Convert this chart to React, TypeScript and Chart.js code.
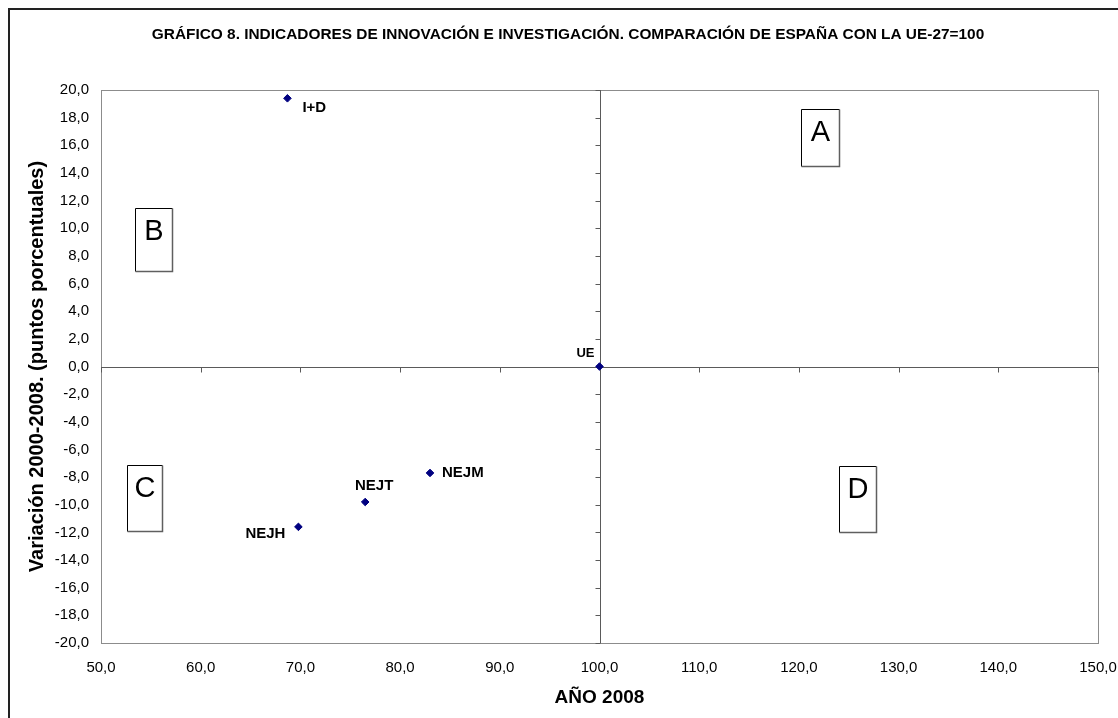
import React, { useEffect, useRef } from 'react';
import { Chart, registerables } from 'chart.js';

Chart.register(...registerables);

const FONT = "'Liberation Sans', Arial, Helvetica, sans-serif";

// ---- data ----
const chartTitle =
  'GRÁFICO 8. INDICADORES DE INNOVACIÓN E INVESTIGACIÓN. COMPARACIÓN DE ESPAÑA CON LA UE-27=100';
const xAxisTitle = 'AÑO 2008';
const yAxisTitle = 'Variación 2000-2008. (puntos porcentuales)';
const categories = ['I+D', 'NEJH', 'NEJT', 'NEJM', 'UE'];
const xValues = [68.7, 69.8, 76.5, 83.0, 100.0];
const yValues = [19.4, -11.6, -9.8, -7.7, 0.0];
const quadrantLetters = ['A', 'B', 'C', 'D'];
const xMin = 50;
const xMax = 150;
const xStep = 10;
const yMin = -20;
const yMax = 20;
const yStep = 2;
const xCross = 100;
const yCross = 0;

// ---- styles (label offsets, quadrant boxes in data units) ----
const labelStyles = [
  { dx: 15, dy: 10, align: 'left', size: 15 },
  { dx: -13, dy: 7, align: 'right', size: 15 },
  { dx: 9, dy: -16, align: 'center', size: 15 },
  { dx: 12, dy: 0, align: 'left', size: 15 },
  { dx: -5, dy: -13, align: 'right', size: 13 },
];
const boxStyles = [
  { x0: 120.2, x1: 124.0, y0: 18.6, y1: 14.5 },
  { x0: 53.4, x1: 57.1, y0: 11.5, y1: 6.9 },
  { x0: 52.6, x1: 56.1, y0: -7.1, y1: -11.9 },
  { x0: 124.0, x1: 127.7, y0: -7.2, y1: -12.0 },
];

const fmt = (v: number) => v.toFixed(1).replace('.', ',');

export default function App() {
  const ref = useRef<HTMLCanvasElement>(null);

  useEffect(() => {
    const canvas = ref.current;
    if (!canvas) return;

    const decor = {
      id: 'decor',
      beforeDraw(chart: any) {
        const ctx = chart.ctx as CanvasRenderingContext2D;
        ctx.save();
        ctx.fillStyle = '#ffffff';
        ctx.fillRect(0, 0, chart.width, chart.height);
        // outer frame
        ctx.strokeStyle = '#222222';
        ctx.lineWidth = 2;
        ctx.strokeRect(9, 9, chart.width + 40, chart.height + 40);
        // title fitted to width
        let size = 12;
        ctx.font = `bold ${size}px ${FONT}`;
        const w = ctx.measureText(chartTitle).width;
        size = (size * 833) / w;
        ctx.font = `bold ${size.toFixed(2)}px ${FONT}`;
        ctx.fillStyle = '#000000';
        ctx.textAlign = 'center';
        ctx.textBaseline = 'middle';
        ctx.fillText(chartTitle, 568, 35);
        ctx.restore();
      },
      beforeDatasetsDraw(chart: any) {
        const ctx = chart.ctx as CanvasRenderingContext2D;
        const { left, right, top, bottom } = chart.chartArea;
        const xs = chart.scales.x;
        const ys = chart.scales.y;
        ctx.save();
        // plot border
        ctx.strokeStyle = '#8c8c8c';
        ctx.lineWidth = 1;
        ctx.strokeRect(Math.round(left) + 0.5, Math.round(top) + 0.5, Math.round(right - left), Math.round(bottom - top));
        // cross lines
        const cx = Math.round(xs.getPixelForValue(xCross)) + 0.5;
        const cy = Math.round(ys.getPixelForValue(yCross)) + 0.5;
        ctx.strokeStyle = '#5a5a5a';
        ctx.beginPath();
        ctx.moveTo(cx, top);
        ctx.lineTo(cx, bottom);
        ctx.moveTo(left, cy);
        ctx.lineTo(right, cy);
        // tick marks on the cross lines
        for (let v = yMin; v <= yMax + 1e-9; v += yStep) {
          const py = Math.round(ys.getPixelForValue(v)) + 0.5;
          ctx.moveTo(cx - 5, py);
          ctx.lineTo(cx, py);
        }
        for (let v = xMin; v <= xMax + 1e-9; v += xStep) {
          const px = Math.round(xs.getPixelForValue(v)) + 0.5;
          ctx.moveTo(px, cy);
          ctx.lineTo(px, cy + 5);
        }
        ctx.stroke();
        // quadrant boxes
        quadrantLetters.forEach((letter, i) => {
          const b = boxStyles[i];
          const x0 = Math.round(xs.getPixelForValue(b.x0)) + 0.5;
          const x1 = Math.round(xs.getPixelForValue(b.x1)) + 0.5;
          const y0 = Math.round(ys.getPixelForValue(b.y0)) + 0.5;
          const y1 = Math.round(ys.getPixelForValue(b.y1)) + 0.5;
          ctx.fillStyle = '#ffffff';
          ctx.fillRect(x0, y0, x1 - x0, y1 - y0);
          ctx.lineWidth = 1;
          ctx.strokeStyle = '#000000';
          ctx.beginPath();
          ctx.moveTo(x0, y1);
          ctx.lineTo(x0, y0);
          ctx.lineTo(x1, y0);
          ctx.stroke();
          ctx.strokeStyle = '#5f5f5f';
          ctx.lineWidth = 1.5;
          ctx.beginPath();
          ctx.moveTo(x1, y0);
          ctx.lineTo(x1, y1);
          ctx.lineTo(x0, y1);
          ctx.stroke();
          ctx.fillStyle = '#000000';
          ctx.font = `29px ${FONT}`;
          ctx.textAlign = 'center';
          ctx.textBaseline = 'middle';
          ctx.fillText(letter, (x0 + x1) / 2, y0 + 23);
        });
        ctx.restore();
      },
      afterDatasetsDraw(chart: any) {
        const ctx = chart.ctx as CanvasRenderingContext2D;
        const xs = chart.scales.x;
        const ys = chart.scales.y;
        ctx.save();
        ctx.fillStyle = '#000000';
        ctx.textBaseline = 'middle';
        categories.forEach((name, i) => {
          const s = labelStyles[i];
          const px = xs.getPixelForValue(xValues[i]);
          const py = ys.getPixelForValue(yValues[i]);
          ctx.font = `bold ${s.size}px ${FONT}`;
          ctx.textAlign = s.align as CanvasTextAlign;
          ctx.fillText(name, px + s.dx, py + s.dy);
        });
        ctx.restore();
      },
    };

    const chart = new Chart(canvas, {
      type: 'scatter',
      data: {
        datasets: [
          {
            label: 'Indicadores',
            data: categories.map((_, i) => ({ x: xValues[i], y: yValues[i] })),
            pointStyle: 'rectRot',
            pointRadius: 3.8,
            backgroundColor: '#000080',
            borderColor: '#000080',
            borderWidth: 1,
          },
        ],
      },
      options: {
        responsive: false,
        animation: false,
        devicePixelRatio: 1,
        layout: { padding: { top: 90, right: 20, left: 0, bottom: 0 } },
        plugins: {
          legend: { display: false },
          title: { display: false },
          tooltip: { enabled: false },
        },
        scales: {
          x: {
            type: 'linear',
            min: xMin,
            max: xMax,
            grid: { display: false, drawTicks: false },
            border: { display: false },
            ticks: {
              stepSize: xStep,
              padding: 16,
              color: '#000000',
              font: { family: FONT, size: 15 },
              maxRotation: 0,
              callback: (v: any) => fmt(Number(v)),
            },
            title: {
              display: true,
              text: xAxisTitle,
              color: '#000000',
              font: { family: FONT, size: 19, weight: 'bold' },
              padding: { top: 0, bottom: 8.5 },
            },
            afterFit: (scale: any) => {
              scale.height = 75;
              scale.paddingLeft = 0;
              scale.paddingRight = 0;
            },
          },
          y: {
            type: 'linear',
            min: yMin,
            max: yMax,
            grid: { display: false, drawTicks: false },
            border: { display: false },
            ticks: {
              stepSize: yStep,
              padding: 12,
              color: '#000000',
              font: { family: FONT, size: 15 },
              callback: (v: any) => fmt(Number(v)),
            },
            title: {
              display: true,
              text: yAxisTitle,
              color: '#000000',
              font: { family: FONT, size: 20, weight: 'bold' },
              padding: { top: 25, bottom: 0 },
            },
            afterFit: (scale: any) => {
              scale.width = 101;
              scale.paddingTop = 0;
              scale.paddingBottom = 0;
            },
          },
        },
      },
      plugins: [decor],
    } as any);

    return () => chart.destroy();
  }, []);

  return (
    <div style={{ position: 'absolute', left: 0, top: 0, width: 1118, height: 718, background: '#ffffff' }}>
      <canvas ref={ref} width={1118} height={718} style={{ display: 'block' }} />
    </div>
  );
}
